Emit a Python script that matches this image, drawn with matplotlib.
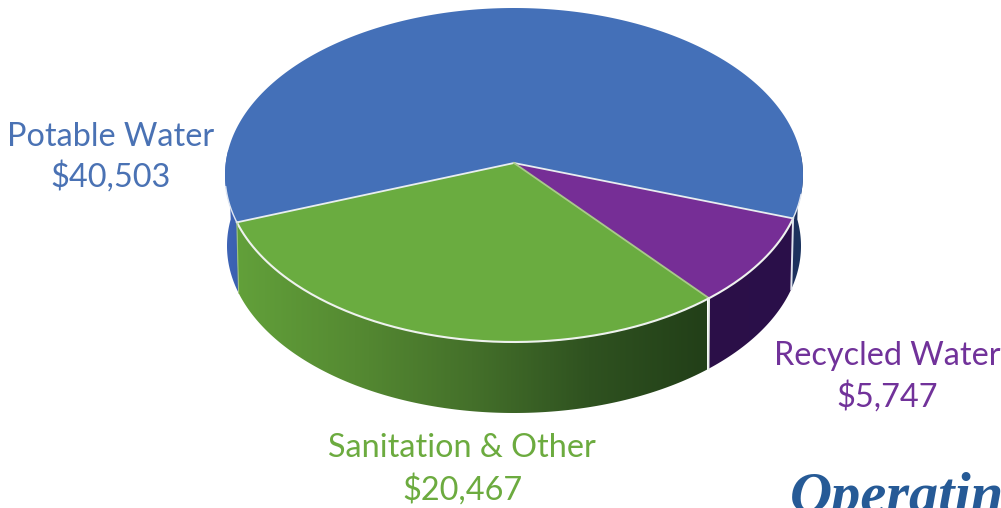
import numpy as np
import matplotlib
matplotlib.use("Agg")
import matplotlib.pyplot as plt
from matplotlib.colors import LinearSegmentedColormap
from matplotlib.patches import Polygon

# operating revenue by fund
categories = ['Potable Water', 'Sanitation & Other', 'Recycled Water']
values = [40503, 20467, 5747]
top_colors = ['#4470b8', '#6aac40', '#762e96']
text_colors = ['#4a72b4', '#6cab3f', '#71329a']

# pie geometry, in pixels
apex = (514, 163)
top_ell = (514, 175, 289, 167)
bot_ell = (514, 246, 287, 167)
squash = 0.59
start = -18.6
depth = 71


def rim(theta, ax_y, ell):
    # point where the ray from the apex at flat angle theta hits the ellipse
    cx, cy, rx, ry = ell
    t = np.radians(theta)
    dx, dy = np.cos(t), -np.sin(t) * squash
    ox, oy = (apex[0] - cx) / rx, (ax_y - cy) / ry
    a = (dx / rx) ** 2 + (dy / ry) ** 2
    b = 2 * (ox * dx / rx + oy * dy / ry)
    c = ox ** 2 + oy ** 2 - 1
    s = (-b + np.sqrt(b ** 2 - 4 * a * c)) / (2 * a)
    return apex[0] + s * dx, ax_y + s * dy


def arc(t0, t1, ax_y, ell):
    x, y = rim(np.linspace(t0, t1, 200), ax_y, ell)
    return np.column_stack([x, y])


def side(ax, t0, t1, stops, x0, x1):
    # wall of the disc between two angles, filled with a left to right gradient
    pts = np.vstack([arc(t0, t1, apex[1], top_ell),
                     arc(t0, t1, apex[1] + depth, bot_ell)[::-1]])
    poly = Polygon(pts, closed=True, fc='none', ec='none', transform=ax.transData)
    ax.add_patch(poly)
    cmap = LinearSegmentedColormap.from_list('wall', stops)
    im = ax.imshow(np.linspace(0, 1, 256).reshape(1, -1), cmap=cmap,
                   extent=(x0, x1, 430, 150), aspect='auto', zorder=1)
    im.set_clip_path(poly)


fig = plt.figure(figsize=(10.01, 5.08), dpi=100)
ax = fig.add_axes([0, 0, 1, 1])
ax.set_xlim(0, 1001)
ax.set_ylim(508, 0)
ax.axis('off')

shares = np.array(values) / sum(values) * 360
edges = start + np.concatenate([[0], np.cumsum(shares)])

# walls
side(ax, 175, edges[1], ['#3f66b8', '#3a5fb0'], 222, 240)
side(ax, edges[1], edges[2], ['#62a03a', '#558a32', '#44702a', '#2f5220', '#223f18'], 237, 707)
side(ax, edges[2], edges[3], ['#2c1048', '#2a0f4a'], 707, 792)
side(ax, edges[3], 365, ['#1f2f5c', '#1a3560'], 788, 806)

# top surface
for i, color in enumerate(top_colors):
    pts = np.vstack([[apex], arc(edges[i], edges[i + 1], apex[1], top_ell)])
    ax.add_patch(Polygon(pts, closed=True, fc=color, ec='none', zorder=2))

# white seams
seam_colors = ['#e8eef0', '#e8eef0', '#a9c98a']
for e, c in zip(edges[:3], seam_colors):
    x, y = rim(e, apex[1], top_ell)
    ax.plot([apex[0], x], [apex[1], y], color=c, lw=1.3, zorder=3)
front = arc(edges[1], edges[3], apex[1], top_ell)
ax.plot(front[:, 0], front[:, 1], color='#eef2ee', lw=1.5, zorder=3)
for e, lw, c in [(edges[1], 0.8, '#9fc080'), (edges[2], 1.4, '#e8eee8'), (edges[3], 1.4, '#dfe4ee')]:
    x0, y0 = rim(e, apex[1], top_ell)
    x1, y1 = rim(e, apex[1] + depth, bot_ell)
    ax.plot([x0, x1], [y0, y1], color=c, lw=lw, zorder=3)
for t0, t1 in [(edges[1] - 12, edges[1]), (edges[3], edges[3] + 8)]:
    seg = arc(t0, t1, apex[1], top_ell)
    ax.plot(seg[:, 0], seg[:, 1], color='#dfe6f2', lw=1.0, zorder=3)

# labels
label_x = [111, 462, 887]
name_y = [146, 457, 365]
value_y = [187, 500, 407]
for i, name in enumerate(categories):
    ax.text(label_x[i], name_y[i], name, color=text_colors[i], fontsize=23.3,
            family='Lato', ha='center', va='baseline', zorder=4)
    ax.text(label_x[i], value_y[i], f'${values[i]:,}', color=text_colors[i], fontsize=23.3,
            family='Lato', ha='center', va='baseline', zorder=4)

ax.text(790, 512, 'Operating', color='#265a96', fontsize=42, family='Liberation Serif',
        weight='bold', style='italic', ha='left', va='baseline', zorder=4, clip_on=True)

fig.savefig('out.png', dpi=100)
